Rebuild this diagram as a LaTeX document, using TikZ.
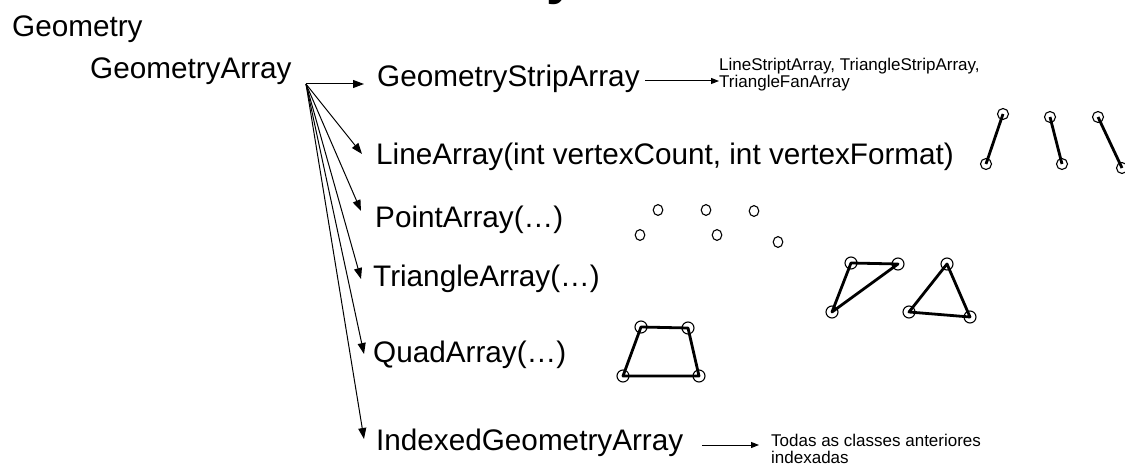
\documentclass[tikz,border=0pt]{standalone}
\usepackage{fontspec}
\setmainfont{Liberation Sans}
\usetikzlibrary{arrows.meta}
\tikzset{
  big/.style={font=\fontsize{29.7}{35}\selectfont, inner sep=0pt, anchor=base west},
  small/.style={font=\fontsize{17}{17}\selectfont, inner sep=0pt, anchor=base west, align=left},
  fan/.style={line width=1pt, -{Triangle[length=11pt,width=8pt]}},
  sarrow/.style={line width=1pt, -{Triangle[length=8pt,width=6pt]}},
  glyph/.style={line width=2.8pt},
  vtx/.style={line width=1.1pt},
}
\begin{document}
\begin{tikzpicture}[x=1pt,y=-1pt]
\useasboundingbox (0,0) rectangle (1125,473);
% cropped title
\node[font=\bfseries\fontsize{54}{60}\selectfont, inner sep=0pt, anchor=base east] (title) at (577,-6) {Geometry};
% labels
\node[big] (geo) at (12,37) {Geometry};
\node[big] (ga) at (90,79) {GeometryArray};
\node[big] (gsa) at (377,87) {GeometryStripArray};
\node[big] (la) at (376,165) {LineArray(int vertexCount, int vertexFormat)};
\node[big] (pa) at (375,228) {PointArray(\ldots)};
\node[big] (ta) at (373,287) {TriangleArray(\ldots)};
\node[big] (qa) at (373,362) {QuadArray(\ldots)};
\node[big] (iga) at (376,450) {IndexedGeometryArray};
\node[small] (strips) at (719,88) {LineStriptArray, TriangleStripArray,\\TriangleFanArray};
\node[small] (todas) at (771,463) {Todas as classes anteriores\\indexadas};
% fan arrows
\coordinate (o) at (306,84);
\coordinate (tgsa) at (364,84);
\coordinate (tla) at (362,154);
\coordinate (tpa) at (361,211);
\coordinate (tta) at (361,279);
\coordinate (tqa) at (364,354);
\coordinate (tiga) at (364,439);
\foreach \t in {tgsa,tla,tpa,tta,tqa,tiga} \draw[fan] (o) -- (\t);
% small arrows
\coordinate (s1) at (645,81);
\coordinate (s2) at (719,81);
\draw[sarrow] (s1) -- (s2);
\coordinate (b1) at (702,445);
\coordinate (b2) at (759,445);
\draw[sarrow] (b1) -- (b2);
% line glyphs
\draw[glyph] (1003,114) -- (986,164);
\draw[glyph] (1050,117) -- (1062,164);
\draw[glyph] (1098,117) -- (1122,168);
\foreach \p in {(1003,114),(986,164),(1050,117),(1062,164),(1098,117),(1122,168)}
  \draw[vtx] \p circle[radius=5.5];
% points
\foreach \p in {(658,210),(706,210),(754,211),(640,235),(717,235),(778,242)}
  \draw[vtx] \p ellipse[x radius=4.8, y radius=5.4];
% triangles
\draw[glyph, line join=round] (851,263) -- (898,264) -- (832,312) -- cycle;
\draw[glyph, line join=round] (947,264) -- (970,317) -- (909,312) -- cycle;
\foreach \p in {(851,263),(898,264),(832,312),(947,264),(970,317),(909,312)}
  \draw[vtx] \p circle[radius=6];
% quad
\draw[glyph, line join=round] (641,327) -- (688,328) -- (699,376) -- (623,376) -- cycle;
\foreach \p in {(641,327),(688,328),(699,376),(623,376)}
  \draw[vtx] \p circle[radius=6];
\end{tikzpicture}
\end{document}
